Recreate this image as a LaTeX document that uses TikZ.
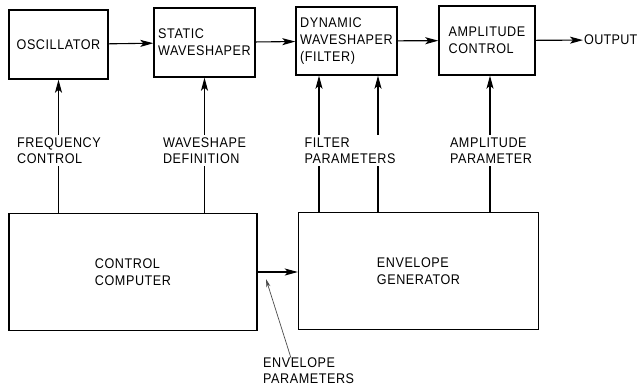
\documentclass[tikz,border=0pt]{standalone}
\usepackage{fontspec}
\setsansfont{Liberation Sans}[FakeStretch=0.9,LetterSpace=4]
\usetikzlibrary{positioning,arrows.meta}
\tikzset{
  sy-box/.style={
    draw=black, line width=1.4pt, fill=white,
    font=\fontsize{14}{17}\selectfont\sffamily, align=left,
    inner sep=0pt
  },
  sy-label/.style={font=\fontsize{14}{15.5}\selectfont\sffamily,
    align=left, fill=white, inner sep=3pt},
  sy-flow/.style={-{Stealth[length=13pt,width=7pt,inset=3pt]},
    line width=1.1pt, draw=black},
  sy-ptr/.style={-{Stealth[length=8pt,width=4pt,inset=2pt]},
    line width=0.7pt, draw=black!70}
}
\begin{document}
\begin{tikzpicture}[x=1pt, y=-1pt]
\useasboundingbox (0,0) rectangle (641,389);
% signal path
\node[sy-box, minimum width=99pt, minimum height=69pt] (osc) at (58.5,44.5)
  {OSCILLATOR};
\node[sy-box, minimum width=101pt, minimum height=69pt] (static) at (204.5,42.5)
  {STATIC\\WAVESHAPER};
\node[sy-box, minimum width=101pt, minimum height=68pt] (dyn) at (346.5,41)
  {DYNAMIC\\WAVESHAPER\\(FILTER)};
\node[sy-box, minimum width=96pt, minimum height=69pt] (amp) at (487,40.5)
  {AMPLITUDE\\CONTROL};
\node[font=\fontsize{14}{17}\selectfont\sffamily\addfontfeature{LetterSpace=2},
  anchor=west, inner sep=1pt] (out) at (583,40) {OUTPUT};
% control side
\node[sy-box, minimum width=248pt, minimum height=117pt] (cc) at (133,272)
  {CONTROL\\COMPUTER};
\node[sy-box, minimum width=240pt, minimum height=117pt] (eg) at (418.5,271)
  {ENVELOPE\\GENERATOR};

\coordinate (f1) at ([xshift=-27.5pt]dyn.south);
\coordinate (f2) at ([xshift=31.5pt]dyn.south);
\coordinate (a1) at ([xshift=3pt]amp.south);
\coordinate (envtip) at (266,279);

\draw[sy-flow] (osc) -- (static);
\draw[sy-flow] (static) -- (dyn);
\draw[sy-flow] (dyn) -- (amp);
\draw[sy-flow] (amp) -- (out);
\draw[sy-flow] (cc.north -| osc) -- (osc.south);
\draw[sy-flow] (cc.north -| static) -- (static.south);
\draw[sy-flow] (eg.north -| f1) -- (f1);
\draw[sy-flow] (eg.north -| f2) -- (f2);
\draw[sy-flow] (eg.north -| a1) -- (a1);
\draw[sy-flow] (cc.east |- 0,272) -- (eg.west |- 0,272);

% labels on the control lines
\node[sy-label] (freq) at (59,150.5) {FREQUENCY\\CONTROL};
\node[sy-label] (wdef) at (204.5,150.5) {WAVESHAPE\\DEFINITION};
\node[sy-label] (fpar) at (350,150.5) {FILTER\\PARAMETERS};
\node[sy-label] (apar) at (491,150.5) {AMPLITUDE\\PARAMETER};
\node[sy-label, anchor=north west, fill=none, inner sep=0pt] (epar) at (263,358)
  {ENVELOPE\\PARAMETERS};
\draw[sy-ptr] ([xshift=28pt]epar.north west) -- (envtip);
\end{tikzpicture}
\end{document}
